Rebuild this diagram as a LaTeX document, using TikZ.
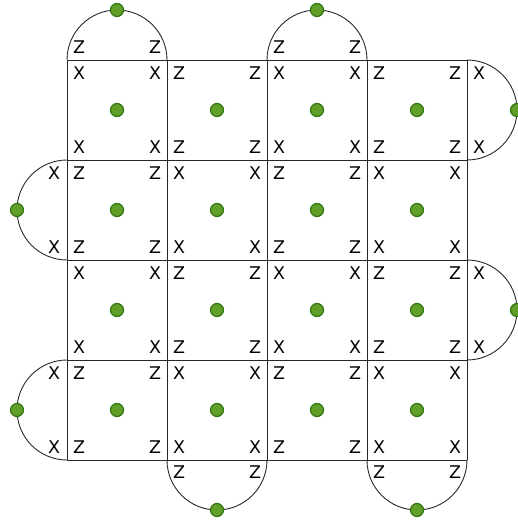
\documentclass[tikz,border=0pt]{standalone}
\usepackage{fontspec}
\setmainfont{DejaVu Sans}
\definecolor{dotfill}{RGB}{96,160,40}
\definecolor{dotline}{RGB}{50,115,20}
\definecolor{linecol}{RGB}{40,40,40}
\begin{document}
\begin{tikzpicture}[x=1pt,y=-1pt,
  gridline/.style={draw=linecol,line width=0.9pt},
  lab/.style={inner sep=0pt,font=\fontsize{17.5}{18}\selectfont},
  dot/.style={circle,fill=dotfill,draw=dotline,line width=1.2pt,minimum size=13pt,inner sep=0pt}]
\useasboundingbox (0,0) rectangle (518,523);
% grid
\foreach \i in {0,...,4}{
  \draw[gridline] (67+100*\i,60) -- (67+100*\i,460);
  \draw[gridline] (67,60+100*\i) -- (467,60+100*\i);
}
% semicircles
\draw[gridline] (67,60) arc[start angle=180,end angle=360,radius=50];
\draw[gridline] (267,60) arc[start angle=180,end angle=360,radius=50];
\draw[gridline] (467,60) arc[start angle=270,end angle=450,radius=50];
\draw[gridline] (467,260) arc[start angle=270,end angle=450,radius=50];
\draw[gridline] (67,160) arc[start angle=270,end angle=90,radius=50];
\draw[gridline] (67,360) arc[start angle=270,end angle=90,radius=50];
\draw[gridline] (167,460) arc[start angle=180,end angle=0,radius=50];
\draw[gridline] (367,460) arc[start angle=180,end angle=0,radius=50];
% square letters and dots
\foreach \r in {0,...,3}{
  \foreach \c in {0,...,3}{
    \pgfmathtruncatemacro{\parity}{mod(\r+\c,2)}
    \ifnum\parity=0 \def\L{X}\else\def\L{Z}\fi
    \node[lab] (a-\r-\c) at (67+100*\c+12,60+100*\r+13) {\L};
    \node[lab] (b-\r-\c) at (67+100*\c+88,60+100*\r+13) {\L};
    \node[lab] (c-\r-\c) at (67+100*\c+12,60+100*\r+87) {\L};
    \node[lab] (d-\r-\c) at (67+100*\c+88,60+100*\r+87) {\L};
    \node[dot] (p-\r-\c) at (117+100*\c,110+100*\r) {};
  }
}
% top semicircles
\foreach \x in {67,267}{
  \node[lab] (t1-\x) at (\x+12,47) {Z};
  \node[lab] (t2-\x) at (\x+88,47) {Z};
  \node[dot] (td-\x) at (\x+50,10) {};
}
% right semicircles
\foreach \y in {60,260}{
  \node[lab] (r1-\y) at (479,\y+13) {X};
  \node[lab] (r2-\y) at (479,\y+87) {X};
  \node[dot] (rd-\y) at (517,\y+50) {};
}
% left semicircles
\foreach \y in {160,360}{
  \node[lab] (l1-\y) at (54,\y+13) {X};
  \node[lab] (l2-\y) at (54,\y+87) {X};
  \node[dot] (ld-\y) at (17,\y+50) {};
}
% bottom semicircles
\foreach \x in {167,367}{
  \node[lab] (b1-\x) at (\x+12,472) {Z};
  \node[lab] (b2-\x) at (\x+88,472) {Z};
  \node[dot] (bd-\x) at (\x+50,510) {};
}
\end{tikzpicture}
\end{document}
